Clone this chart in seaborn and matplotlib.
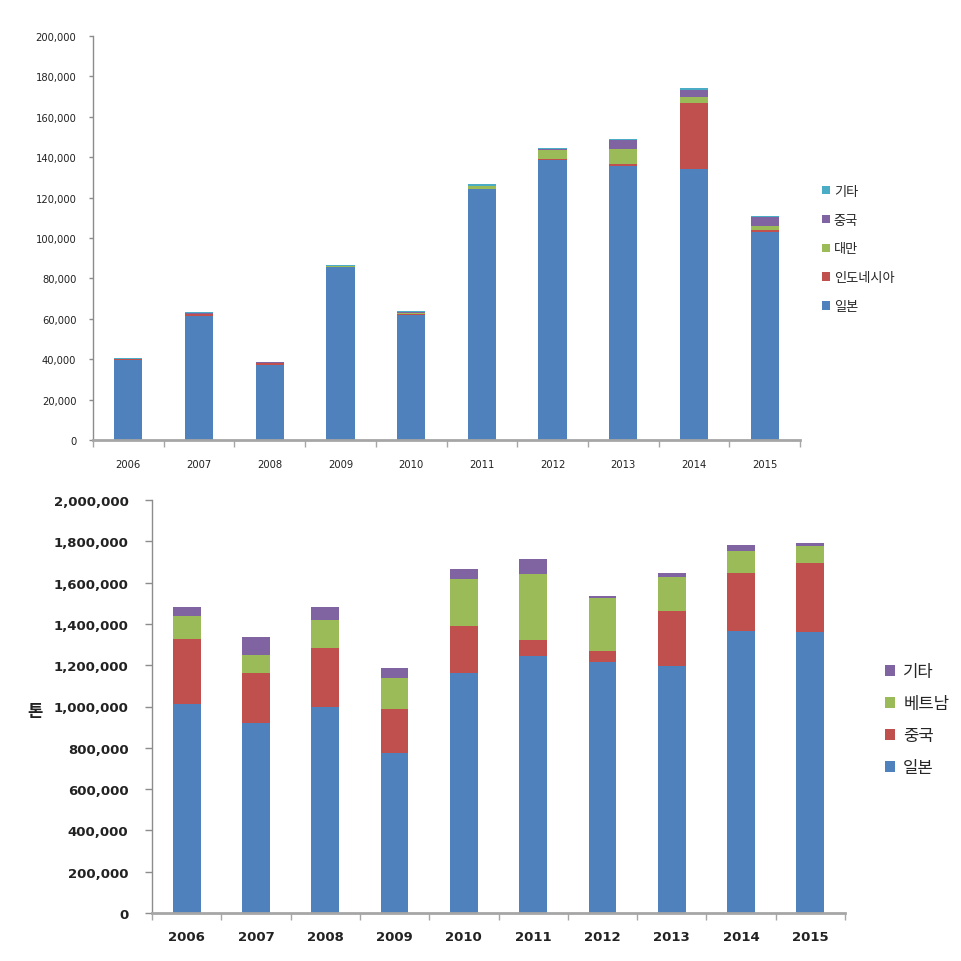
import numpy as np
import pandas as pd
import matplotlib
matplotlib.use("Agg")
import matplotlib.pyplot as plt
import seaborn as sns
from matplotlib.patches import Patch
from matplotlib.ticker import StrMethodFormatter

years = [2006, 2007, 2008, 2009, 2010, 2011, 2012, 2013, 2014, 2015]

# top chart (stack order bottom -> top)
top_names = ["일본", "인도네시아", "대만", "중국", "기타"]
top_japan = [39700, 61200, 37300, 85500, 61900, 124300, 138500, 135500, 134200, 102800]
top_indonesia = [300, 1000, 700, 200, 300, 100, 700, 1200, 32500, 1300]
top_taiwan = [100, 200, 200, 200, 800, 1300, 4300, 7400, 3300, 1800]
top_china = [100, 300, 200, 300, 500, 200, 800, 4300, 3300, 4300]
top_other = [500, 500, 400, 300, 500, 700, 300, 700, 1000, 700]

# bottom chart
bot_names = ["일본", "중국", "베트남", "기타"]
bot_japan = [1011000, 922000, 999000, 776000, 1162000, 1245000, 1214000, 1196000, 1366000, 1359000]
bot_china = [317000, 239000, 283000, 210000, 226000, 79000, 55000, 267000, 282000, 336000]
bot_vietnam = [109000, 88000, 137000, 150000, 229000, 318000, 257000, 166000, 107000, 84000]
bot_other = [44000, 86000, 61000, 50000, 49000, 72000, 8000, 18000, 26000, 13000]

BLUE, RED, GREEN, PURPLE, TEAL = "#4F81BD", "#C0504D", "#9BBB59", "#8064A2", "#4BACC6"

sns.set_theme(style="white")
plt.rcParams["font.family"] = ["DejaVu Sans", "Noto Sans CJK KR"]


def stacked(ax, names, series, colors):
    df = pd.DataFrame(dict(zip(names, series)), index=[str(y) for y in years])
    cum = df.cumsum(axis=1)
    # draw the tallest stack first, smaller ones over it
    for name, color in reversed(list(zip(names, colors))):
        sns.barplot(x=cum.index, y=cum[name].values, color=color, width=0.4,
                    saturation=1, ax=ax, linewidth=0)
    ax.set_xlim(-0.5, len(years) - 0.5)
    ax.set_xticks(np.arange(-0.5, len(years)), minor=True)
    ax.yaxis.set_major_formatter(StrMethodFormatter("{x:,.0f}"))
    for s in ["top", "right"]:
        ax.spines[s].set_visible(False)
    ax.spines["left"].set_color("#8C8C8C")
    ax.spines["left"].set_linewidth(1.0)
    ax.spines["bottom"].set_color("#A6A6A6")
    ax.spines["bottom"].set_linewidth(2.0)
    ax.set_xlabel("")
    ax.set_ylabel("")


fig = plt.figure(figsize=(9.62, 9.62), dpi=100)

# top chart
ax1 = fig.add_axes([93 / 962, 1 - 441 / 962, 707 / 962, 404 / 962])
stacked(ax1, top_names, [top_japan, top_indonesia, top_taiwan, top_china, top_other],
        [BLUE, RED, GREEN, PURPLE, TEAL])
ax1.set_ylim(0, 200000)
ax1.set_yticks(np.arange(0, 200001, 20000))
ax1.tick_params(axis="y", which="major", left=True, length=3, width=1, color="#8C8C8C",
                pad=9, labelsize=7.2, labelcolor="#222222")
ax1.tick_params(axis="x", which="major", bottom=False, length=0, pad=14,
                labelsize=7.2, labelcolor="#222222")
ax1.tick_params(axis="x", which="minor", bottom=True, length=5, width=1, color="#A6A6A6")

top_handles = [Patch(facecolor=c, edgecolor="none") for c in [TEAL, PURPLE, GREEN, RED, BLUE]]
fig.legend(top_handles, ["기타", "중국", "대만", "인도네시아", "일본"],
           loc="center left", bbox_to_anchor=(810 / 962, 1 - 250 / 962),
           frameon=False, prop={"family": ["Noto Sans CJK KR"], "size": 9.5},
           handlelength=0.6, handleheight=0.6, handletextpad=0.3, labelspacing=1.2)

# bottom chart
ax2 = fig.add_axes([152 / 962, 1 - 914 / 962, 693 / 962, 413 / 962])
stacked(ax2, bot_names, [bot_japan, bot_china, bot_vietnam, bot_other],
        [BLUE, RED, GREEN, PURPLE])
ax2.set_ylim(0, 2000000)
ax2.set_yticks(np.arange(0, 2000001, 200000))
ax2.tick_params(axis="y", which="major", left=True, length=5, width=1, color="#8C8C8C",
                pad=12, labelsize=9.5, labelcolor="#222222")
ax2.tick_params(axis="x", which="major", bottom=False, length=0, pad=12,
                labelsize=9.5, labelcolor="#222222")
ax2.tick_params(axis="x", which="minor", bottom=True, length=5, width=1, color="#A6A6A6")
for lab in ax2.get_xticklabels() + ax2.get_yticklabels():
    lab.set_fontweight("bold")
fig.text(35 / 962, 1 - 712 / 962, "톤", ha="center", va="center", rotation=0,
         fontsize=12, fontweight="bold", family=["Noto Sans CJK KR"], color="#222222")

bot_handles = [Patch(facecolor=c, edgecolor="none") for c in [PURPLE, GREEN, RED, BLUE]]
fig.legend(bot_handles, ["기타", "베트남", "중국", "일본"],
           loc="center left", bbox_to_anchor=(870 / 962, 1 - 721 / 962),
           frameon=False, prop={"family": ["Noto Sans CJK KR"], "size": 12},
           handlelength=0.6, handleheight=0.6, handletextpad=0.5, labelspacing=0.9)

fig.savefig("out.png", dpi=100, facecolor="white")
